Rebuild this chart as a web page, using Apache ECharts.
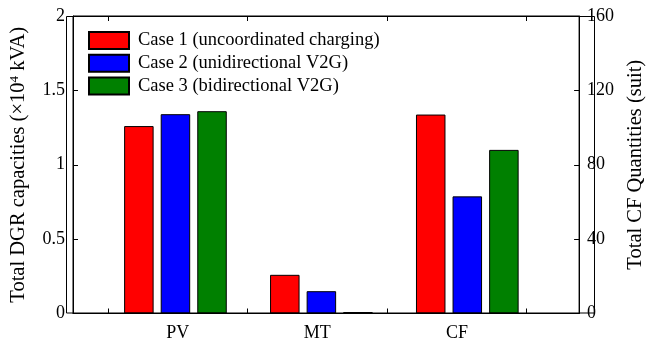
<!DOCTYPE html>
<html>
<head>
<meta charset="utf-8">
<script src="https://cdn.jsdelivr.net/npm/echarts@6/dist/echarts.min.js"></script>
<style>
  html, body { margin: 0; padding: 0; background: #fff; }
  #chart { width: 654px; height: 344px; }
</style>
</head>
<body>
<div id="chart"></div>
<script>
// Resource groups along the x axis
const categories = ['PV', 'MT', 'CF'];
// Case names
const caseNames = [
  'Case 1 (uncoordinated charging)',
  'Case 2 (unidirectional V2G)',
  'Case 3 (bidirectional V2G)'
];
const caseColors = ['#ff0000', '#0000ff', '#008000'];

// Total DGR capacities (×10^4 kVA) for PV and MT, per case
const dgrCase1 = [1.26, 0.26];
const dgrCase2 = [1.34, 0.15];
const dgrCase3 = [1.36, 0.01];
// Total CF quantities (suit), per case
const cfCase1 = [107];
const cfCase2 = [63];
const cfCase3 = [88];

// Axis ticks
const leftTicks = [0, 0.5, 1, 1.5, 2];
const rightTicks = [0, 40, 80, 120, 160];
const groupTicks = [0.5, 1.5, 2.5, 3.5];
const xRange = [0.25, 3.875];

const FONT = '"Liberation Serif", "Times New Roman", serif';
const W = 654;
const H = 344;
const GRID = { left: 66, right: 59, top: 16, bottom: 30.5 };

// inner grid that holds the bars: spans the group boundaries (0.5 .. 3.5)
const unit = (W - GRID.left - GRID.right) / (xRange[1] - xRange[0]);
const barGrid = {
  left: GRID.left + (groupTicks[0] - xRange[0]) * unit,
  right: GRID.right + (xRange[1] - groupTicks[groupTicks.length - 1]) * unit,
  top: GRID.top,
  bottom: GRID.bottom
};

// DGR values sit on PV/MT, CF quantities on CF
const dgrData = (vals) => categories.map((c, i) => (i < vals.length ? vals[i] : '-'));
const cfData = (vals) => categories.map((c) => (c === 'CF' ? vals[0] : '-'));

const series = [];
[dgrCase1, dgrCase2, dgrCase3].forEach((vals, k) => {
  series.push({
    type: 'bar', name: caseNames[k],
    xAxisIndex: 2, yAxisIndex: 2,
    barWidth: 29.5, barGap: '24%',
    itemStyle: { color: caseColors[k], borderColor: '#000', borderWidth: 1 },
    data: dgrData(vals)
  });
});
[cfCase1, cfCase2, cfCase3].forEach((vals, k) => {
  series.push({
    type: 'bar', name: caseNames[k],
    xAxisIndex: 3, yAxisIndex: 3,
    barWidth: 29.5, barGap: '24%',
    itemStyle: { color: caseColors[k], borderColor: '#000', borderWidth: 1 },
    data: cfData(vals)
  });
});

const tickStyle = { show: true, inside: true, length: 5, lineStyle: { color: '#000', width: 1 } };

const frameX = (pos) => ({
  gridIndex: 0,
  type: 'value',
  position: pos,
  min: xRange[0],
  max: xRange[1],
  splitLine: { show: false },
  axisLine: { show: true, onZero: false, lineStyle: { color: '#000', width: 1 } },
  axisTick: { show: true, inside: true, length: 5, customValues: groupTicks, lineStyle: { color: '#000', width: 1 } }
});

const option = {
  animation: false,
  backgroundColor: '#fff',
  textStyle: { fontFamily: FONT, color: '#000' },
  grid: [
    Object.assign({ show: true, borderColor: '#000', borderWidth: 1 }, GRID),
    Object.assign({}, barGrid)
  ],
  // plot box outline
  graphic: [{
    type: 'rect',
    silent: true,
    z: 10,
    shape: {
      x: GRID.left + 0.5,
      y: GRID.top + 0.5,
      width: W - GRID.left - GRID.right - 1,
      height: H - GRID.top - GRID.bottom - 1
    },
    style: { fill: 'none', stroke: '#000', lineWidth: 1 }
  }],
  legend: {
    data: caseNames,
    orient: 'vertical',
    left: 83,
    top: 26,
    itemWidth: 40,
    itemHeight: 17,
    itemGap: 3.8,
    icon: 'rect',
    textStyle: { fontFamily: FONT, fontSize: 18.5, color: '#000', padding: [0, 0, 0, 4] }
  },
  xAxis: [
    Object.assign(frameX('bottom'), {
      axisLabel: {
        customValues: [1, 2, 3],
        formatter: (v) => categories[Math.round(v) - 1] || '',
        fontFamily: FONT, fontSize: 18, color: '#000', margin: 11
      }
    }),
    Object.assign(frameX('top'), {
      axisLabel: { show: false }
    }),
    { gridIndex: 1, type: 'category', data: categories, show: false },
    { gridIndex: 1, type: 'category', data: categories, show: false }
  ],
  yAxis: [
    {
      gridIndex: 0,
      type: 'value',
      position: 'left',
      min: 0, max: 2, interval: 0.5,
      name: '{t|Total DGR capacities (×10}{s|4}{t| kVA)}',
      nameLocation: 'middle',
      nameGap: 43,
      nameTextStyle: {
        rich: {
          t: { fontFamily: FONT, fontSize: 20.5, color: '#000' },
          s: { fontFamily: FONT, fontSize: 13, color: '#000', verticalAlign: 'top', padding: [0, 0, 9, 0] }
        }
      },
      splitLine: { show: false },
      axisLine: { show: true, onZero: false, lineStyle: { color: '#000', width: 1 } },
      axisTick: tickStyle,
      axisLabel: {
        formatter: (v) => (leftTicks.indexOf(v) >= 0 ? String(v) : ''),
        fontFamily: FONT, fontSize: 18, color: '#000', margin: 8
      }
    },
    {
      gridIndex: 0,
      type: 'value',
      position: 'right',
      min: 0, max: 160, interval: 40,
      name: 'Total CF Quantities (suit)',
      nameLocation: 'middle',
      nameGap: 40,
      nameRotate: 90,
      nameTextStyle: { fontFamily: FONT, fontSize: 20.5, color: '#000' },
      splitLine: { show: false },
      axisLine: { show: true, onZero: false, lineStyle: { color: '#000', width: 1 } },
      axisTick: tickStyle,
      axisLabel: {
        formatter: (v) => (rightTicks.indexOf(v) >= 0 ? String(v) : ''),
        fontFamily: FONT, fontSize: 18, color: '#000', margin: 8
      }
    },
    { gridIndex: 1, type: 'value', min: 0, max: 2, show: false },
    { gridIndex: 1, type: 'value', min: 0, max: 160, show: false }
  ],
  series: series
};

const chart = echarts.init(document.getElementById('chart'), null, { renderer: 'canvas' });
chart.setOption(option);
</script>
</body>
</html>
